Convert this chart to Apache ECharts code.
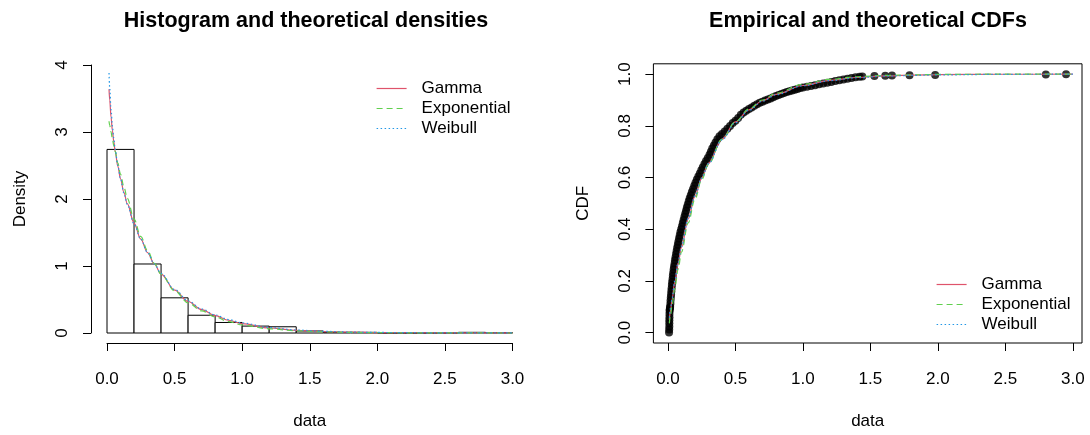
<!DOCTYPE html>
<html><head><meta charset="utf-8">
<script src="https://cdn.jsdelivr.net/npm/echarts@6/dist/echarts.min.js"></script>
<style>html,body{margin:0;padding:0;background:#fff}#c{width:1090px;height:435px}</style>
</head><body><div id="c"></div>
<script>
// ---------- data ----------
const titles = ['Histogram and theoretical densities', 'Empirical and theoretical CDFs'];
const seriesNames = ['Gamma', 'Exponential', 'Weibull'];
const xTicks = [0, 0.5, 1, 1.5, 2, 2.5, 3];
const densYTicks = [0, 1, 2, 3, 4];
const cdfYTicks = [0, 0.2, 0.4, 0.6, 0.8, 1];

const histBreaks = [0, 0.2, 0.4, 0.6, 0.8, 1.0, 1.2, 1.4, 1.6, 1.8, 2.0, 2.2, 2.4, 2.6, 2.8, 3.0];
const histDensity = [2.74, 1.03, 0.525, 0.265, 0.157, 0.103, 0.093, 0.03, 0.01, 0.01, 0, 0, 0, 0.01, 0.005];

const densX = [0.015, 0.02, 0.03, 0.04, 0.05, 0.06, 0.08, 0.1, 0.125, 0.15, 0.2, 0.25, 0.3, 0.35, 0.4, 0.5, 0.6, 0.7, 0.8, 0.9, 1.0, 1.2, 1.4, 1.6, 1.8, 2.0, 2.5, 3.0];
const densGamma = [3.64, 3.48, 3.22, 3.02, 2.86, 2.72, 2.49, 2.30, 2.10, 1.93, 1.64, 1.40, 1.20, 1.03, 0.88, 0.64, 0.47, 0.35, 0.26, 0.19, 0.14, 0.075, 0.04, 0.022, 0.012, 0.0065, 0.0015, 0.0004];
const densExp = [3.16, 3.10, 3.00, 2.90, 2.80, 2.71, 2.54, 2.37, 2.18, 2.01, 1.70, 1.44, 1.23, 1.04, 0.88, 0.63, 0.45, 0.33, 0.24, 0.17, 0.12, 0.063, 0.033, 0.017, 0.009, 0.0045, 0.0009, 0.0002];
const densWeibull = [3.88, 3.66, 3.33, 3.09, 2.91, 2.75, 2.50, 2.30, 2.09, 1.92, 1.63, 1.40, 1.20, 1.03, 0.89, 0.65, 0.48, 0.36, 0.27, 0.20, 0.15, 0.082, 0.045, 0.025, 0.014, 0.008, 0.0019, 0.0005];

const ecdfX = [0.008, 0.009, 0.01, 0.01, 0.01, 0.011, 0.011, 0.012, 0.013, 0.015,
  0.016, 0.018, 0.019, 0.021, 0.023, 0.025, 0.027, 0.029, 0.031, 0.034, 0.036, 0.039, 0.042, 0.045, 0.049, 0.052, 0.056, 0.06, 0.064, 0.068,
  0.073, 0.077, 0.082, 0.087, 0.092, 0.098, 0.104, 0.11, 0.116, 0.122, 0.128, 0.134, 0.14, 0.147, 0.154, 0.161, 0.169, 0.177, 0.186, 0.195,
  0.204, 0.214, 0.225, 0.236, 0.247, 0.258, 0.27, 0.282, 0.295, 0.308, 0.318, 0.328, 0.34, 0.352, 0.366, 0.382,
  0.40, 0.42, 0.44, 0.46, 0.48, 0.50, 0.52, 0.54, 0.56, 0.58, 0.60, 0.62, 0.64, 0.66, 0.68, 0.70, 0.72, 0.74, 0.76, 0.78, 0.80, 0.82, 0.84, 0.86, 0.88, 0.90, 0.92, 0.94, 0.96, 0.98, 1.00,
  1.03, 1.06, 1.09, 1.12, 1.15, 1.18, 1.21, 1.24, 1.27, 1.30, 1.33, 1.36, 1.39, 1.42, 1.44,
  1.53, 1.61, 1.66, 1.79, 1.98, 2.80, 2.95];
const ecdfY = [0.001, 0.012, 0.024, 0.036, 0.048, 0.06, 0.072, 0.084, 0.09, 0.096,
  0.10, 0.112, 0.124, 0.136, 0.148, 0.16, 0.172, 0.184, 0.196, 0.208, 0.22, 0.232, 0.244, 0.256, 0.268, 0.28, 0.292, 0.304, 0.316, 0.328,
  0.34, 0.352, 0.364, 0.376, 0.388, 0.40, 0.412, 0.424, 0.436, 0.448, 0.46, 0.472, 0.484, 0.496, 0.508, 0.52, 0.532, 0.544, 0.556, 0.568,
  0.58, 0.592, 0.604, 0.616, 0.628, 0.64, 0.652, 0.664, 0.676, 0.688, 0.70, 0.712, 0.724, 0.736, 0.748, 0.76,
  0.768, 0.778, 0.789, 0.799, 0.811, 0.82, 0.83, 0.843, 0.852, 0.858, 0.865, 0.871, 0.878, 0.884, 0.889, 0.893, 0.898, 0.902, 0.906, 0.911, 0.915, 0.919, 0.923, 0.927, 0.931, 0.934, 0.937, 0.94, 0.943, 0.946, 0.948,
  0.951, 0.954, 0.957, 0.961, 0.964, 0.967, 0.97, 0.973, 0.976, 0.979, 0.982, 0.985, 0.988, 0.99, 0.991,
  0.993, 0.994, 0.995, 0.996, 0.997, 0.999, 1.0];

const cdfX = [0.01, 0.02, 0.03, 0.05, 0.075, 0.1, 0.15, 0.2, 0.25, 0.3, 0.4, 0.5, 0.6, 0.7, 0.8, 1.0, 1.2, 1.4, 1.6, 1.8, 2.0, 2.5, 3.0];
const cdfGamma = [0.05, 0.09, 0.128, 0.195, 0.268, 0.33, 0.44, 0.527, 0.598, 0.655, 0.748, 0.815, 0.862, 0.897, 0.922, 0.956, 0.976, 0.987, 0.993, 0.996, 0.998, 0.9995, 1.0];
const cdfExp = [0.036, 0.072, 0.106, 0.17, 0.245, 0.312, 0.425, 0.517, 0.592, 0.652, 0.748, 0.816, 0.865, 0.9, 0.926, 0.961, 0.98, 0.99, 0.995, 0.997, 0.999, 1.0, 1.0];
const cdfWeibull = [0.058, 0.097, 0.134, 0.2, 0.272, 0.333, 0.442, 0.528, 0.598, 0.654, 0.746, 0.812, 0.86, 0.895, 0.92, 0.955, 0.975, 0.986, 0.992, 0.995, 0.997, 0.9994, 1.0];

// ---------- styling ----------
const FONT = '"Liberation Sans", Arial, Helvetica, sans-serif';
const BLACK = '#000';
const colors = ['#DF536B', '#61D04F', '#2297E6'];
const lineTypes = ['solid', [6, 4], [1.5, 2.5]];
const fmt1 = v => v.toFixed(1);
const zip = (xs, ys) => xs.map((x, i) => [x, ys[i]]);
const CDF_PREFIX = 'cdf:';

const chart = echarts.init(document.getElementById('c'), null, {renderer: 'canvas'});

const axisText = {fontFamily: FONT, fontSize: 17, color: BLACK};
const lineSt = {color: BLACK, width: 1};

function curve(name, idx, xs, ys, gi) {
  return {
    type: 'line', name, xAxisIndex: gi, yAxisIndex: gi,
    data: zip(xs, ys), symbol: 'none', smooth: 0.35, smoothMonotone: 'x',
    lineStyle: {color: colors[idx], width: 1.2, type: lineTypes[idx], opacity: 1},
    itemStyle: {color: colors[idx]}, z: 5, silent: true, clip: false
  };
}

function legendAt(names, left, top) {
  return {
    data: names.map((n, i) => ({
      name: n,
      itemStyle: {opacity: 0, color: 'transparent', borderWidth: 0},
      lineStyle: {color: colors[i], width: 1.2, type: lineTypes[i], opacity: 1}
    })),
    orient: 'vertical', left, top,
    itemWidth: 30, itemHeight: 14, itemGap: 3, selectedMode: false,
    formatter: n => n.replace(CDF_PREFIX, ''),
    textStyle: {fontFamily: FONT, fontSize: 17, color: BLACK, padding: [0, 0, 0, 10]}
  };
}
const cdfNames = seriesNames.map(n => CDF_PREFIX + n);

const option = {
  animation: false,
  backgroundColor: '#fff',
  textStyle: {fontFamily: FONT},
  grid: [
    {left: 107, top: 65, width: 405.5, height: 270.7, containLabel: false},
    {left: 653.4, top: 63.8, width: 428.6, height: 282.7, show: true, borderColor: BLACK, borderWidth: 1, backgroundColor: 'transparent', containLabel: false}
  ],
  xAxis: [
    {
      type: 'value', gridIndex: 0, min: 0, max: 3, interval: 0.5, offset: 10,
      axisLine: {show: true, onZero: false, lineStyle: lineSt},
      axisTick: {show: true, length: 8, lineStyle: lineSt},
      axisLabel: {margin: 28, formatter: fmt1, ...axisText},
      splitLine: {show: false},
      name: 'data', nameLocation: 'middle', nameGap: 70, nameTextStyle: axisText
    },
    {
      type: 'value', gridIndex: 1, min: -0.108, max: 3.068,
      axisLine: {show: false, onZero: false},
      axisTick: {show: true, length: 8, lineStyle: lineSt, customValues: xTicks},
      axisLabel: {margin: 28, formatter: fmt1, customValues: xTicks, ...axisText},
      splitLine: {show: false},
      name: 'data', nameLocation: 'middle', nameGap: 70, nameTextStyle: axisText
    }
  ],
  yAxis: [
    {
      type: 'value', gridIndex: 0, min: 0, max: 4, interval: 1, offset: 16,
      axisLine: {show: true, onZero: false, lineStyle: lineSt},
      axisTick: {show: true, length: 8, lineStyle: lineSt},
      axisLabel: {margin: 20, rotate: 90, formatter: v => String(v), ...axisText},
      splitLine: {show: false},
      name: 'Density', nameLocation: 'middle', nameGap: 62, nameTextStyle: axisText
    },
    {
      type: 'value', gridIndex: 1, min: -0.04, max: 1.04,
      axisLine: {show: false, onZero: false},
      axisTick: {show: true, length: 8, lineStyle: lineSt, customValues: cdfYTicks},
      axisLabel: {margin: 20, rotate: 90, formatter: fmt1, customValues: cdfYTicks, ...axisText},
      splitLine: {show: false},
      name: 'CDF', nameLocation: 'middle', nameGap: 62, nameTextStyle: axisText
    }
  ],
  legend: [legendAt(seriesNames, 371, 75), legendAt(cdfNames, 931, 271)],
  graphic: [
    {type: 'text', x: 306, y: 21, style: {text: titles[0], font: 'bold 21.5px ' + FONT, fill: BLACK, align: 'center', verticalAlign: 'middle', textAlign: 'center', textVerticalAlign: 'middle'}},
    {type: 'text', x: 868, y: 21, style: {text: titles[1], font: 'bold 21.5px ' + FONT, fill: BLACK, align: 'center', verticalAlign: 'middle', textAlign: 'center', textVerticalAlign: 'middle'}}
  ],
  series: [
    {
      type: 'custom', name: 'hist', xAxisIndex: 0, yAxisIndex: 0, silent: true, z: 2,
      data: histDensity.map((d, i) => [histBreaks[i], histBreaks[i + 1], d]),
      encode: {x: [0, 1], y: 2},
      renderItem(params, api) {
        const p0 = api.coord([api.value(0), 0]);
        const p1 = api.coord([api.value(1), api.value(2)]);
        return {
          type: 'rect',
          shape: {x: p0[0], y: p1[1], width: p1[0] - p0[0], height: p0[1] - p1[1]},
          style: {fill: '#fff', stroke: BLACK, lineWidth: 1}
        };
      }
    },
    curve(seriesNames[0], 0, densX, densGamma, 0),
    curve(seriesNames[1], 1, densX, densExp, 0),
    curve(seriesNames[2], 2, densX, densWeibull, 0),
    {
      type: 'scatter', name: 'ecdf', xAxisIndex: 1, yAxisIndex: 1, silent: true, z: 3,
      data: zip(ecdfX, ecdfY), symbol: 'circle', symbolSize: 8,
      itemStyle: {color: BLACK}
    },
    curve(cdfNames[0], 0, cdfX, cdfGamma, 1),
    curve(cdfNames[1], 1, cdfX, cdfExp, 1),
    curve(cdfNames[2], 2, cdfX, cdfWeibull, 1)
  ]
};
chart.setOption(option);
</script>
</body></html>
